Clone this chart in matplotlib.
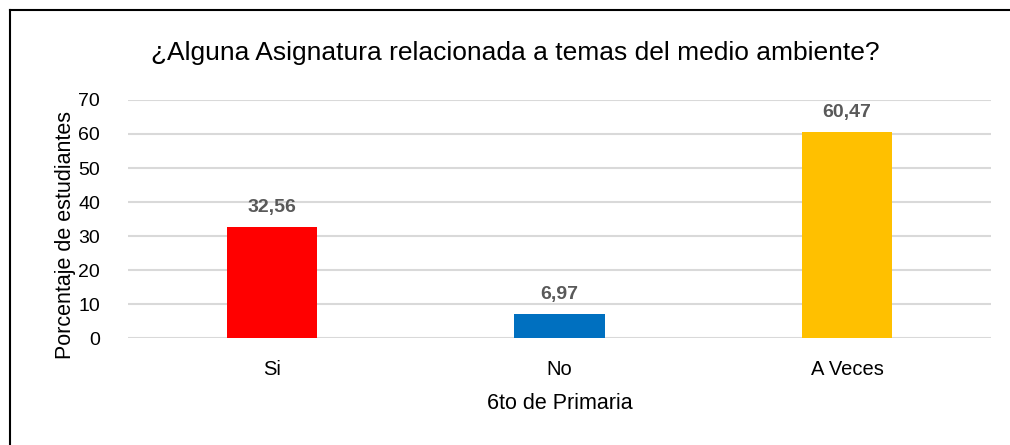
import matplotlib
matplotlib.use("Agg")
import matplotlib.pyplot as plt
from matplotlib.lines import Line2D

categories = ["Si", "No", "A Veces"]
values = [32.56, 6.97, 60.47]
value_labels = ["32,56", "6,97", "60,47"]
colors = ["#FF0000", "#0070C0", "#FFC000"]
yticks = [0, 10, 20, 30, 40, 50, 60, 70]

plt.rcParams['font.family'] = ['Liberation Sans', 'DejaVu Sans']

fig = plt.figure(figsize=(10.10, 4.45), dpi=100)
ax = fig.add_axes([0.1267, 0.2404, 0.9812 - 0.1267, 0.7753 - 0.2404])

x = list(range(len(categories)))
ax.bar(x, values, width=0.313, color=colors, zorder=3)
for xi, v, lab in zip(x, values, value_labels):
    ax.text(xi, v + 3.3, lab, ha='center', va='bottom', fontsize=14,
            fontweight='bold', color='#595959')

ax.set_xlim(-0.5, 2.5)
ax.set_ylim(0, 70)
ax.set_yticks(yticks)
ax.set_yticklabels([str(t) for t in yticks], fontsize=14)
ax.set_xticks(x)
ax.set_xticklabels(categories, fontsize=14.5)
ax.tick_params(axis='both', length=0)
ax.tick_params(axis='y', pad=20)
ax.tick_params(axis='x', pad=16)
ax.yaxis.grid(True, color='#D9D9D9', linewidth=1.5, zorder=0)
for s in ax.spines.values():
    s.set_visible(False)

ax.set_xlabel("6to de Primaria", fontsize=15.5, labelpad=10)
ax.set_ylabel("Porcentaje de estudiantes", fontsize=15.5)
ax.yaxis.set_label_coords(-0.060, 0.433)

fig.text(0.51, 0.882, "¿Alguna Asignatura relacionada a temas del medio ambiente?",
         ha='center', va='center', fontsize=19)

# outer frame (left and top edges visible)
fig.add_artist(Line2D([10/1010, 10/1010], [0, 1 - 10/445], transform=fig.transFigure,
                      color='black', linewidth=1.5))
fig.add_artist(Line2D([10/1010, 1], [1 - 10/445, 1 - 10/445], transform=fig.transFigure,
                      color='black', linewidth=1.5))

fig.savefig("out.png", dpi=100)
